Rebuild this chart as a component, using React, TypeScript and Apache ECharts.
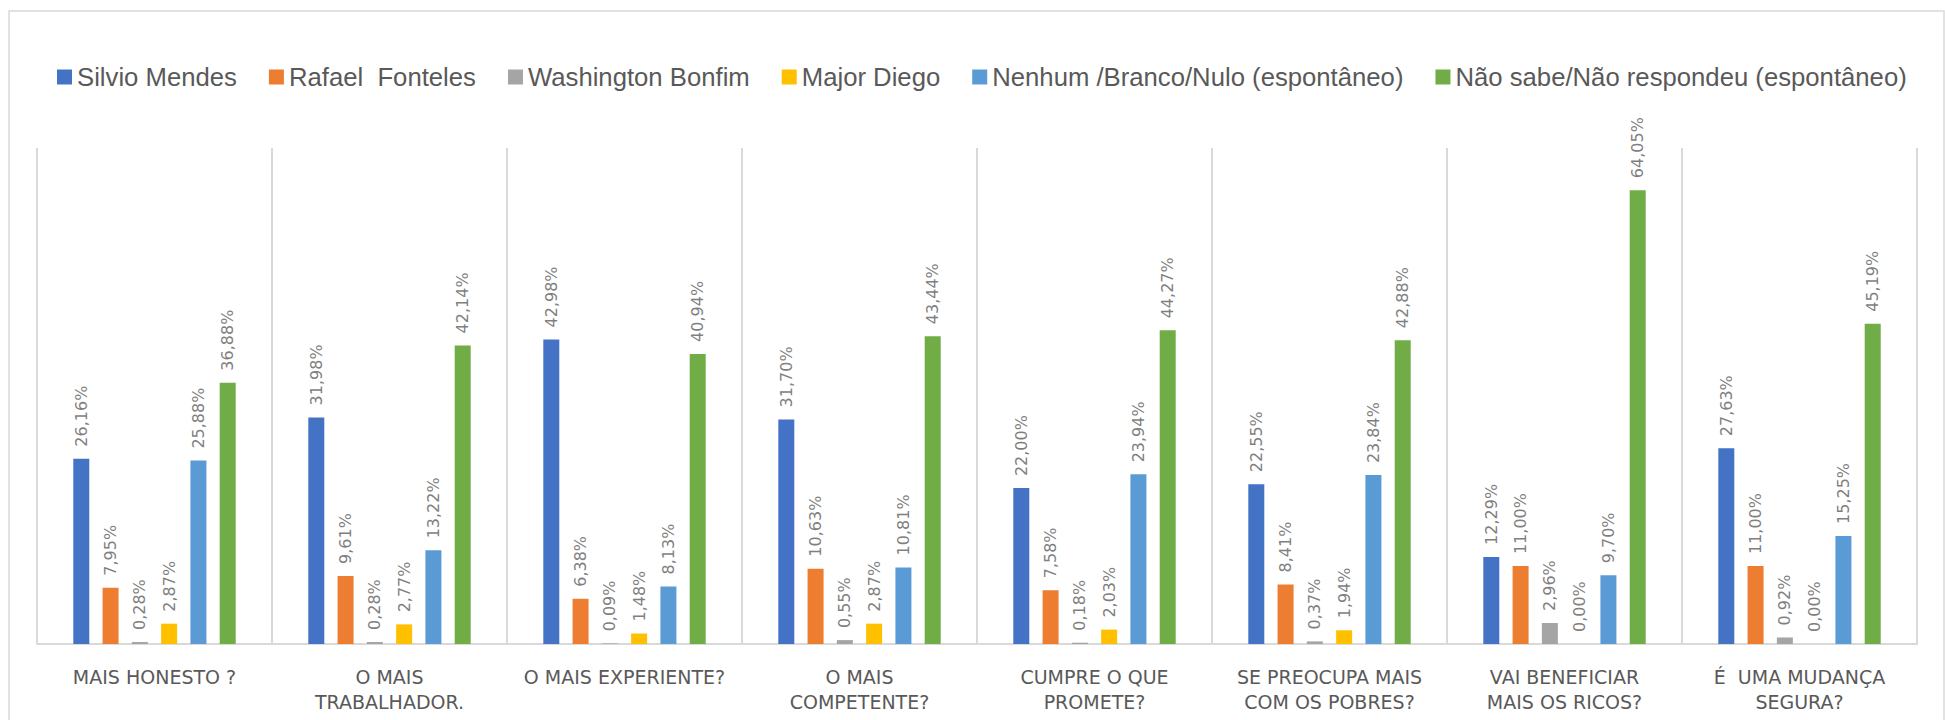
import React, { useEffect, useRef } from "react";
import * as echarts from "echarts";

const categories = [
  "MAIS HONESTO ?",
  "O MAIS\nTRABALHADOR.",
  "O MAIS EXPERIENTE?",
  "O MAIS\nCOMPETENTE?",
  "CUMPRE O QUE\nPROMETE?",
  "SE PREOCUPA MAIS\nCOM OS POBRES?",
  "VAI BENEFICIAR\nMAIS OS RICOS?",
  "É  UMA MUDANÇA\nSEGURA?",
];

const seriesNames = [
  "Silvio Mendes",
  "Rafael  Fonteles",
  "Washington Bonfim",
  "Major Diego",
  "Nenhum /Branco/Nulo (espontâneo)",
  "Não sabe/Não respondeu (espontâneo)",
];

const silvioMendes = [26.16, 31.98, 42.98, 31.7, 22.0, 22.55, 12.29, 27.63];
const rafaelFonteles = [7.95, 9.61, 6.38, 10.63, 7.58, 8.41, 11.0, 11.0];
const washingtonBonfim = [0.28, 0.28, 0.09, 0.55, 0.18, 0.37, 2.96, 0.92];
const majorDiego = [2.87, 2.77, 1.48, 2.87, 2.03, 1.94, 0.0, 0.0];
const nenhum = [25.88, 13.22, 8.13, 10.81, 23.94, 23.84, 9.7, 15.25];
const naoSabe = [36.88, 42.14, 40.94, 43.44, 44.27, 42.88, 64.05, 45.19];

const seriesValues = [silvioMendes, rafaelFonteles, washingtonBonfim, majorDiego, nenhum, naoSabe];
const colors = ["#4472C4", "#ED7D31", "#A5A5A5", "#FFC000", "#5B9BD5", "#70AD47"];

export default function App() {
  const ref = useRef<HTMLDivElement>(null);
  useEffect(() => {
    document.body.style.margin = "0";
    if (!ref.current) return;
    const chart = echarts.init(ref.current, null, { renderer: "svg" });
    chart.setOption({
      animation: false,
      backgroundColor: "#ffffff",
      graphic: [
        {
          type: "rect",
          shape: { x: 9, y: 11, width: 1935, height: 720 },
          style: { fill: "none", stroke: "#d9d9d9", lineWidth: 1.5 },
          silent: true,
          z: -1,
        },
      ],
      legend: {
        left: 52,
        top: 59,
        itemWidth: 15,
        itemHeight: 15,
        itemGap: 32,
        icon: "rect",
        textStyle: { fontFamily: "Liberation Sans", fontSize: 25.7, color: "#595959" },
        data: seriesNames,
      },
      grid: { left: 37, right: 28, top: 148, bottom: 76, containLabel: false },
      xAxis: {
        type: "category",
        data: categories,
        axisLine: { show: true, lineStyle: { color: "#d9d9d9", width: 2 } },
        axisTick: { show: false },
        splitLine: { show: true, lineStyle: { color: "#d9d9d9", width: 2 } },
        axisLabel: {
          interval: 0,
          margin: 20,
          fontFamily: "DejaVu Sans",
          fontSize: 19,
          lineHeight: 25,
          color: "#595959",
        },
      },
      yAxis: {
        type: "value",
        min: 0,
        max: 70,
        show: false,
        splitLine: { show: false },
      },
      series: seriesNames.map((name, i) => ({
        name,
        type: "bar",
        data: seriesValues[i],
        barWidth: 16,
        barGap: "83%",
        itemStyle: { color: colors[i] },
        label: {
          show: true,
          position: "top",
          rotate: 90,
          align: "left",
          verticalAlign: "middle",
          distance: 12,
          fontFamily: "DejaVu Sans",
          fontSize: 16,
          color: "#7f7f7f",
          formatter: (p: any) => p.value.toFixed(2).replace(".", ",") + "%",
        },
      })),
    });
    return () => chart.dispose();
  }, []);
  return <div ref={ref} style={{ width: 1945, height: 720 }} />;
}
